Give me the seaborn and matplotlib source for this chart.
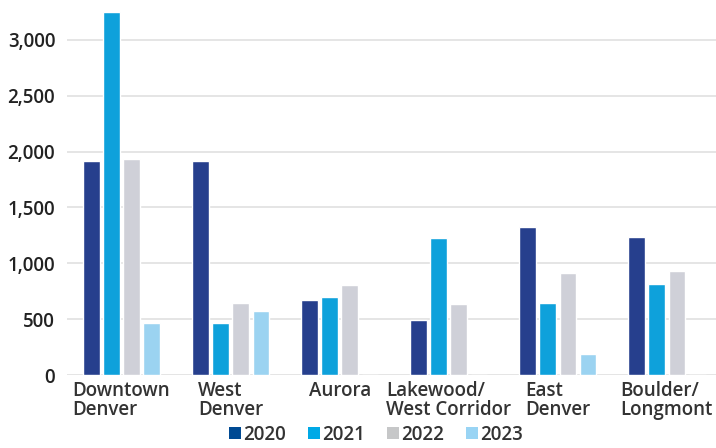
import matplotlib
matplotlib.use("Agg")
import matplotlib.pyplot as plt
from matplotlib.patches import Patch
import pandas as pd
import seaborn as sns

regions = ["Downtown\nDenver", "West\nDenver", "Aurora",
           "Lakewood/\nWest Corridor", "East\nDenver", "Boulder/\nLongmont"]
years = ["2020", "2021", "2022", "2023"]
v2020 = [1920, 1920, 675, 495, 1325, 1240]
v2021 = [3250, 465, 700, 1225, 648, 815]
v2022 = [1930, 642, 805, 636, 913, 930]
v2023 = [463, 570, 0, 0, 188, 0]
yticks = [0, 500, 1000, 1500, 2000, 2500, 3000]

bar_colors = ["#263f8d", "#0ea1db", "#cfd0d8", "#9bd3f1"]
key_colors = ["#004a93", "#00a9e6", "#c6c7c8", "#99d4f4"]

rows = []
for yr, vals in zip(years, [v2020, v2021, v2022, v2023]):
    for r, v in zip(regions, vals):
        rows.append({"region": r, "year": yr, "value": v})
df = pd.DataFrame(rows)

sns.set_theme(style="white")
plt.rcParams["font.family"] = ["Open Sans", "DejaVu Sans"]

fig = plt.figure(figsize=(7.16, 4.48), dpi=100)
ax = fig.add_axes([67 / 716, 73 / 448, 1 - 67 / 716, 375 / 448])

sns.barplot(data=df, x="region", y="value", hue="year", palette=bar_colors,
            width=0.74, gap=0.17, ax=ax, legend=False, saturation=1)

ax.set_ylim(0, 3358)
ax.set_xlim(-0.5, 5.45)
ax.set_yticks(yticks)
ax.set_yticklabels([f"{t:,}" for t in yticks], fontsize=13.5,
                   color="#222222", fontweight="semibold")
ax.set_xticks(range(len(regions)))
ax.set_xticklabels(regions, fontsize=13.5, color="#333333",
                   fontweight="semibold", multialignment="left",
                   linespacing=0.98)
ax.tick_params(axis="y", length=0, pad=8.5)
ax.tick_params(axis="x", length=0, pad=4)
ax.set_xlabel("")
ax.set_ylabel("")
ax.yaxis.grid(True, color="#e0e0e0", linewidth=1.2)
ax.set_axisbelow(True)
for s in ax.spines.values():
    s.set_visible(False)

handles = [Patch(facecolor=c, edgecolor="none") for c in key_colors]
fig.legend(handles, years, loc="lower center", bbox_to_anchor=(0.525, -0.03),
           ncol=4, frameon=False, handlelength=0.65, handleheight=0.65,
           handletextpad=0.12, columnspacing=1.15,
           prop={"size": 13.5, "weight": "semibold"}, labelcolor="#333333")

fig.savefig("out.png", dpi=100)
